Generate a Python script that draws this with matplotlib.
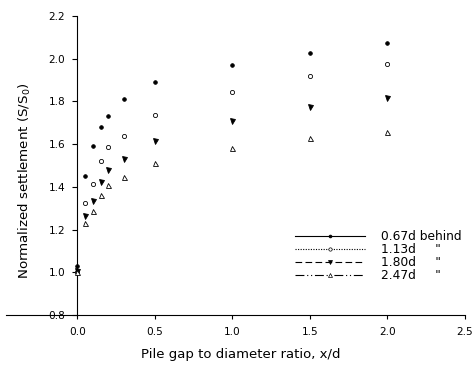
import matplotlib
matplotlib.use("Agg")
import matplotlib.pyplot as plt
from matplotlib.lines import Line2D

plt.rcParams['font.family'] = ['DejaVu Sans']

x = [0.0, 0.05, 0.1, 0.15, 0.2, 0.3, 0.5, 1.0, 1.5, 2.0]
s_067 = [1.03, 1.45, 1.59, 1.68, 1.73, 1.81, 1.89, 1.97, 2.025, 2.075]
s_113 = [1.00, 1.325, 1.415, 1.52, 1.585, 1.64, 1.735, 1.845, 1.92, 1.977]
s_180 = [1.005, 1.265, 1.335, 1.425, 1.48, 1.53, 1.613, 1.71, 1.775, 1.815]
s_247 = [1.00, 1.23, 1.287, 1.36, 1.407, 1.446, 1.51, 1.583, 1.629, 1.656]

labels = ['0.67d behind', '1.13d     "', '1.80d     "', '2.47d     "']
xticks = [0.0, 0.5, 1.0, 1.5, 2.0, 2.5]
yticks = [0.8, 1.0, 1.2, 1.4, 1.6, 1.8, 2.0, 2.2]

fig = plt.figure(figsize=(4.73, 3.65), dpi=100)
ax = fig.add_axes([6/473, 50/365, (465-6)/473, (315-16)/365])

series = [s_067, s_113, s_180, s_247]
markers = ['o', 'o', 'v', '^']
faces = ['black', 'white', 'black', 'white']
sizes = [2.6, 3.0, 3.6, 3.6]
styles = ['-', (0, (1, 1.3)), (0, (6, 3)), (0, (8, 2.5, 1, 2.5, 1, 2.5))]

handles = []
for s, m, fc, ms, ls, lab in zip(series, markers, faces, sizes, styles, labels):
    ax.plot(x, s, linestyle='none', marker=m, markersize=ms,
            markerfacecolor=fc, markeredgecolor='black', markeredgewidth=0.6,
            clip_on=False, zorder=3)
    handles.append(Line2D([], [], color='black', linestyle=ls, linewidth=0.8,
                          marker=m, markersize=ms * 0.8, markerfacecolor=fc,
                          markeredgecolor='black', markeredgewidth=0.5, label=lab))

ax.set_xlim(-0.46, 2.5)
ax.set_ylim(0.8, 2.2)
ax.spines['left'].set_position(('data', 0))
ax.spines['right'].set_visible(False)
ax.spines['top'].set_visible(False)
for sp in ['left', 'bottom']:
    ax.spines[sp].set_linewidth(0.8)
ax.set_xticks(xticks)
ax.set_xticklabels([f'{v:.1f}' for v in xticks])
ax.set_yticks(yticks)
ax.set_yticklabels([f'{v:.1f}' for v in yticks])
ax.tick_params(axis='both', direction='out', width=0.8, labelsize=7.6)
ax.tick_params(axis='x', length=3.0, pad=5.5)
ax.tick_params(axis='y', length=3.6, pad=5.2)
ax.set_xlabel('Pile gap to diameter ratio, x/d', fontsize=9.5)
ax.set_ylabel('Normalized settlement (S/S$_0$)', fontsize=9.6)
ax.xaxis.set_label_coords((241 - 6) / 459, (315 - 348) / 299)
ax.yaxis.set_label_coords((33 - 6) / 459, (315 - 181) / 299)

leg = ax.legend(handles=handles, loc='upper left',
                bbox_to_anchor=((295 - 6) / 459, (315 - 230) / 299),
                frameon=False, fontsize=8.8, handlelength=5.7, handletextpad=1.35,
                labelspacing=0.0, borderpad=0, borderaxespad=0)

fig.savefig('out.png', dpi=100)
